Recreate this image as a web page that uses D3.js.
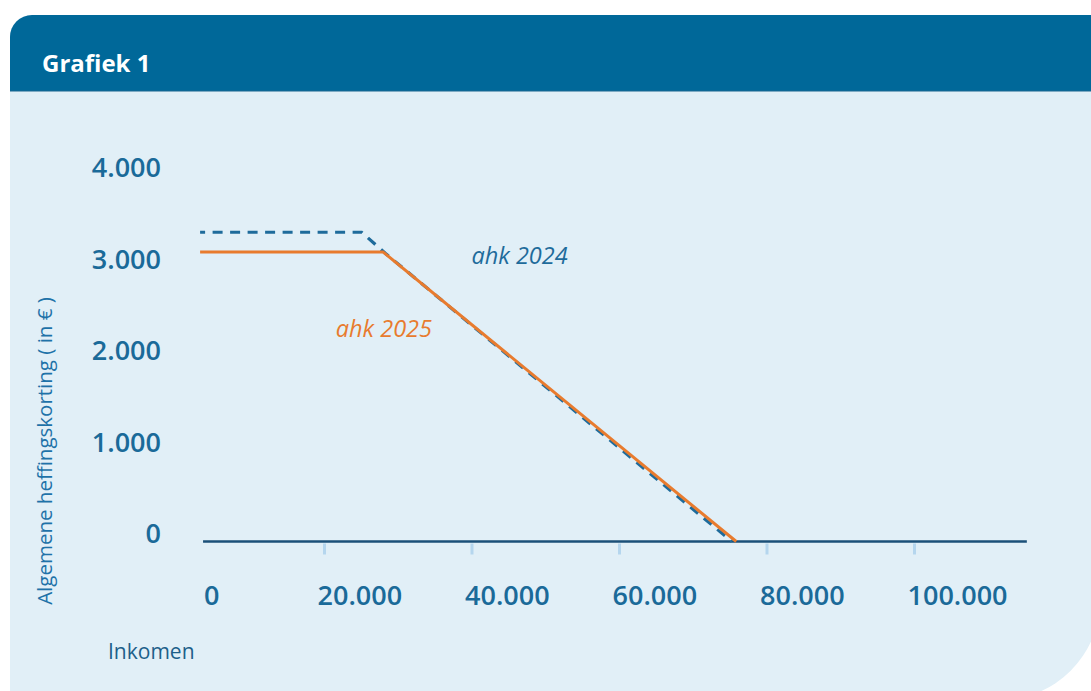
<!DOCTYPE html>
<html>
<head>
<meta charset="utf-8">
<script src="https://cdn.jsdelivr.net/npm/d3@7/dist/d3.min.js"></script>
<style>
  html, body { margin: 0; padding: 0; background: #ffffff; }
  svg { display: block; }
  text { font-family: "Open Sans", "Noto Sans", sans-serif; }
</style>
</head>
<body>
<svg id="chart" width="1091" height="691"></svg>
<script>
// ---- data ----
const title = "Grafiek 1";
const yTitle = "Algemene heffingskorting ( in € )";
const xTitle = "Inkomen";
const yTicks = [0, 1000, 2000, 3000, 4000];
const xTicks = [0, 20000, 40000, 60000, 80000, 100000];
// ahk 2024 (dashed)
const income2024 = [3200, 25100, 28300, 75300];
const ahk2024 = [3380, 3380, 3150, 0];
// ahk 2025 (solid)
const income2025 = [3200, 28000, 75900];
const ahk2025 = [3165, 3165, 0];
// axis extent
const axisIncome = [3600, 115300];
// series labels
const seriesNames = ["ahk 2024", "ahk 2025"];
const labelIncome = [40000, 21600];
const labelValue = [3030, 2230];

const fmt = v => d3.format(",")(v).replace(/,/g, ".");

const svg = d3.select("#chart");
const W = 1091, H = 691;

// card background
const cardL = 10, cardT = 15, cardR = 1100, cardB = 700, rTL = 22, rBR = 100, headB = 91;
svg.append("path")
  .attr("d", `M${cardL},${cardT + rTL} A${rTL},${rTL} 0 0 1 ${cardL + rTL},${cardT} L${cardR},${cardT} L${cardR},${cardB - rBR} A${rBR},${rBR} 0 0 1 ${cardR - rBR},${cardB} L${cardL},${cardB} Z`)
  .attr("fill", "#e1eff7");
svg.append("path")
  .attr("d", `M${cardL},${headB} L${cardL},${cardT + rTL} A${rTL},${rTL} 0 0 1 ${cardL + rTL},${cardT} L${cardR},${cardT} L${cardR},${headB} Z`)
  .attr("fill", "#006899");
svg.append("line").attr("x1", cardL).attr("x2", W).attr("y1", headB).attr("y2", headB)
  .attr("stroke", "#1b6790").attr("stroke-width", 1);

svg.append("text").text(title)
  .attr("x", 42).attr("y", 72)
  .attr("fill", "#ffffff").attr("font-size", 24).attr("font-weight", 700);

// scales
const x = d3.scaleLinear().domain([20000, 100000]).range([324, 914]);
const y = d3.scaleLinear().domain([0, 4000]).range([541.5, 175.5]);

const textColor = "#1a6a99";

// y axis labels (no line, no ticks)
const yAxis = svg.append("g").attr("transform", "translate(161,0)")
  .call(d3.axisLeft(y).tickValues(yTicks).tickSize(0).tickPadding(0).tickFormat(fmt));
yAxis.select(".domain").remove();
yAxis.selectAll("text")
  .attr("x", 0).attr("y", -8).attr("dy", "0.35em")
  .attr("text-anchor", "end")
  .attr("fill", textColor).attr("font-size", 27).attr("font-weight", 600)
  .attr("font-family", "'Open Sans', 'Noto Sans', sans-serif");

// x axis baseline
svg.append("line")
  .attr("x1", x(axisIncome[0])).attr("x2", x(axisIncome[1]))
  .attr("y1", y(0)).attr("y2", y(0))
  .attr("stroke", "#1b5079").attr("stroke-width", 2.6);

// x axis ticks and labels
const xAxis = svg.append("g").attr("transform", `translate(0,${y(0) + 2})`)
  .call(d3.axisBottom(x).tickValues(xTicks).tickSize(11).tickPadding(0).tickFormat(fmt));
xAxis.select(".domain").remove();
xAxis.selectAll(".tick line")
  .attr("stroke", "#b5d6ee").attr("stroke-width", 3)
  .attr("opacity", d => d === 0 ? 0 : 1);
xAxis.selectAll(".tick text")
  .attr("y", 61).attr("dy", 0)
  .attr("dx", d => d === 0 ? 27 : -7)
  .attr("text-anchor", "start")
  .attr("fill", textColor).attr("font-size", 27).attr("font-weight", 600)
  .attr("font-family", "'Open Sans', 'Noto Sans', sans-serif");

// lines
const line = d3.line().x(d => x(d[0])).y(d => y(d[1]));
const pts2024 = income2024.map((v, i) => [v, ahk2024[i]]);
const pts2025 = income2025.map((v, i) => [v, ahk2025[i]]);

svg.append("path").datum(pts2024)
  .attr("d", line)
  .attr("fill", "none")
  .attr("stroke", "#1e6b9b").attr("stroke-width", 3.2)
  .attr("stroke-dasharray", "10,7.5").attr("stroke-dashoffset", 5);

svg.append("path").datum(pts2025)
  .attr("d", line)
  .attr("fill", "none")
  .attr("stroke", "#e87b2e").attr("stroke-width", 3);

// series labels
const labelColors = ["#1e6b9b", "#e87b2e"];
seriesNames.forEach((name, i) => {
  svg.append("text").text(name)
    .attr("x", x(labelIncome[i])).attr("y", y(labelValue[i]))
    .attr("fill", labelColors[i]).attr("font-size", 23.5)
    .attr("font-style", "italic");
});

// axis titles
svg.append("text").text(yTitle)
  .attr("transform", "translate(52,451) rotate(-90)")
  .attr("text-anchor", "middle")
  .attr("fill", "#1e72a8").attr("font-size", 20.5);

svg.append("text").text(xTitle)
  .attr("x", 108).attr("y", 659)
  .attr("fill", "#1d5f8a").attr("font-size", 21);
</script>
</body>
</html>
